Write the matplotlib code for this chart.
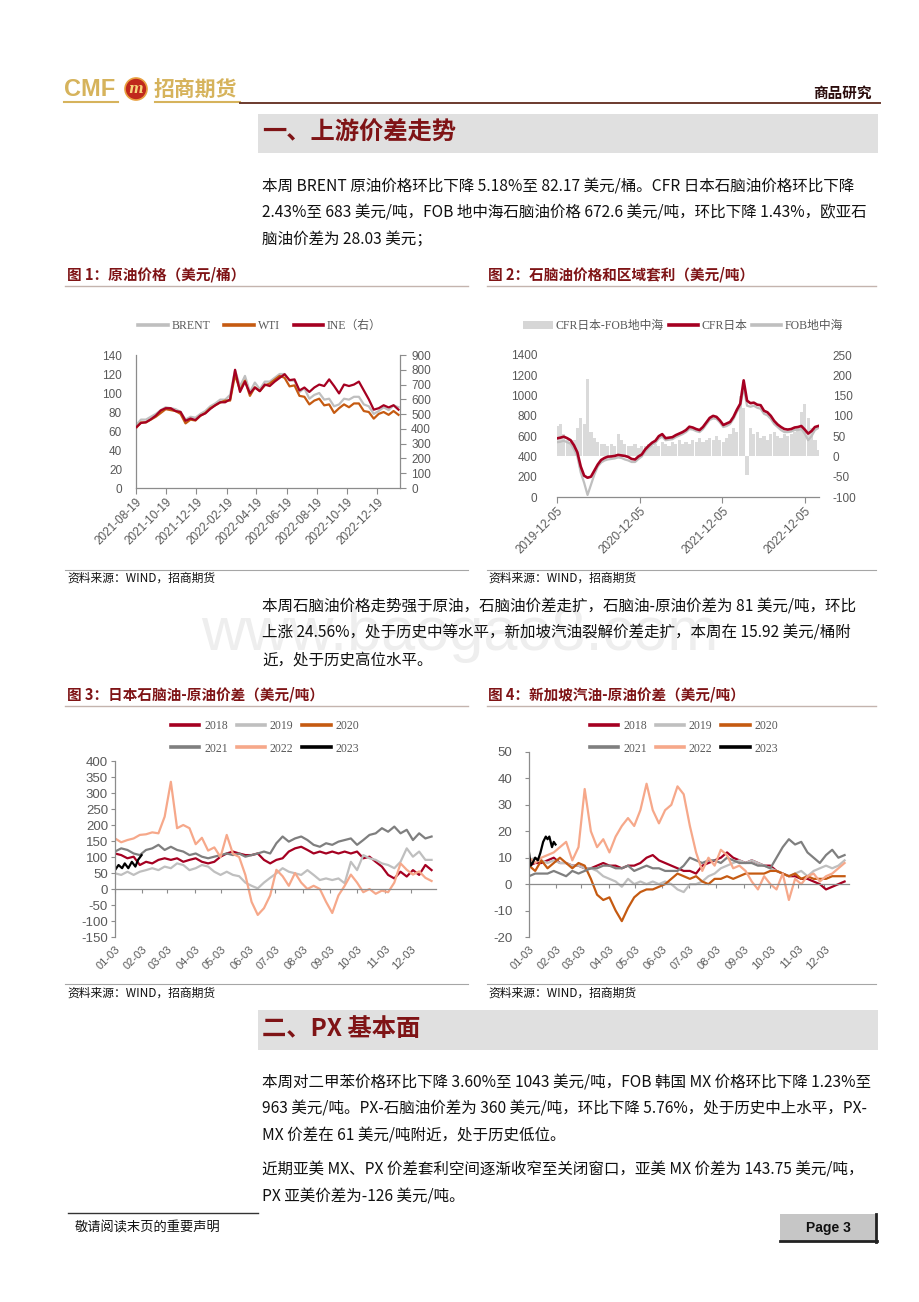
import numpy as np
import pandas as pd
import matplotlib
matplotlib.use('Agg')
import matplotlib.pyplot as plt
from matplotlib.lines import Line2D
from matplotlib.patches import Rectangle, Patch, Circle

plt.rcParams['font.family'] = ['Noto Sans CJK SC', 'DejaVu Sans']
plt.rcParams['axes.unicode_minus'] = False

W, H = 920, 1302

# ---------------- 图1：原油价格（10天一个点） ----------------
c1_start = '2021-08-19'
c1_end = '2023-02-03'
brent = [66, 72, 72, 75, 78, 82, 85, 84, 83, 80, 72, 75, 74, 78, 81, 86, 89, 93, 93, 98,
         124, 107, 118, 101, 111, 104, 112, 112, 116, 120, 120, 113, 113, 101, 105, 94, 98, 100, 93, 94,
         86, 88, 94, 93, 96, 96, 88, 86, 78, 81, 85, 82, 87, 85]
wti = [63, 69, 69, 72, 75, 79, 83, 82, 81, 78, 68, 72, 71, 76, 79, 84, 87, 90, 92, 92,
       119, 103, 113, 97, 106, 102, 108, 110, 114, 118, 116, 107, 108, 97, 96, 88, 92, 94, 87, 88,
       79, 84, 88, 85, 89, 89, 81, 80, 73, 78, 80, 77, 81, 77]
ine = [410, 440, 445, 465, 490, 525, 540, 540, 520, 515, 455, 470, 460, 490, 505, 535, 560, 580, 580, 600,
       800, 650, 720, 640, 680, 655, 700, 690, 720, 745, 770, 730, 735, 660, 680, 650, 680, 700, 690, 735,
       690, 640, 700, 690, 700, 720, 660, 600, 530, 540, 560, 545, 560, 530]
c1_ticks = ['2021-08-19', '2021-10-19', '2021-12-19', '2022-02-19', '2022-04-19',
            '2022-06-19', '2022-08-19', '2022-10-19', '2022-12-19']

# ---------------- 图2：石脑油价格和区域套利（15天一个点） ----------------
c2_start = '2019-12-05'
c2_end = '2023-02-05'
cfr_japan = [578, 585, 595, 580, 560, 510, 440, 300, 210, 190, 200, 260, 320, 365, 385, 398, 400, 405, 415, 410,
             405, 395, 375, 370, 400, 420, 470, 505, 535, 555, 600, 620, 580, 585, 590, 610, 625, 640, 660, 693,
             685, 670, 660, 690, 735, 780, 800, 790, 755, 710, 725, 740, 790, 860, 920, 1150, 950, 925, 930, 910,
             905, 850, 835, 800, 750, 715, 690, 670, 665, 670, 685, 690, 700, 665, 625, 650, 690, 700]
fob_med = [540, 545, 555, 540, 525, 470, 400, 240, 140, 20, 120, 220, 300, 340, 360, 370, 375, 380, 390, 385,
           370, 360, 345, 345, 375, 400, 450, 485, 515, 535, 575, 595, 560, 565, 570, 590, 605, 620, 640, 670,
           665, 650, 640, 670, 715, 760, 775, 770, 735, 690, 700, 720, 770, 840, 890, 1080, 900, 890, 900, 880,
           870, 820, 805, 770, 720, 690, 660, 640, 640, 645, 660, 660, 670, 625, 560, 600, 660, 680]
cfr_fob_spread = [75, 80, 55, 40, 35, 40, 70, 95, 80, 190, 60, 45, 35, 30, 30, 25, 30, 25, 55, 40,
                  30, 25, 25, 30, 20, 25, 25, 30, 25, 30, 25, 35, 30, 25, 35, 30, 40, 30, 35, 30,
                  40, 35, 45, 35, 40, 45, 40, 50, 40, 35, 45, 55, 70, 60, 150, 120, -45, 70, 55, 60,
                  45, 50, 40, 55, 60, 50, 45, 55, 50, 55, 60, 70, 110, 130, 95, 70, 40, 15]
c2_ticks = ['2019-12-05', '2020-12-05', '2021-12-05', '2022-12-05']

# ---------------- 图3 / 图4：季节性（每周一个点，自01-03起） ----------------
month_labels = ['01-03', '02-03', '03-03', '04-03', '05-03', '06-03',
                '07-03', '08-03', '09-03', '10-03', '11-03', '12-03']
years = ['2018', '2019', '2020', '2021', '2022', '2023']

jp_2018 = [111, 106, 96, 101, 75, 85, 80, 91, 96, 91, 96, 85, 91, 96, 85, 80, 85, 101, 111, 117,
           111, 106, 106, 111, 91, 80, 91, 96, 117, 127, 132, 122, 111, 117, 111, 117, 111, 117, 111, 117,
           96, 101, 85, 70, 44, 33, 54, 39, 59, 44, 75, 59]
jp_2019 = [49, 44, 54, 44, 54, 59, 65, 59, 70, 65, 80, 75, 59, 65, 75, 70, 54, 44, 54, 44,
           40, 20, 10, 2, 20, 35, 49, 65, 54, 49, 44, 59, 44, 28, 33, 28, 33, 18, 85, 59,
           106, 96, 91, 80, 75, 65, 85, 127, 101, 117, 91, 91]
jp_2020 = []
jp_2021 = [117, 127, 122, 111, 106, 122, 127, 138, 122, 132, 122, 117, 106, 111, 101, 96, 101, 106, 111, 106,
           111, 101, 106, 111, 117, 111, 143, 164, 148, 158, 164, 153, 138, 132, 143, 138, 148, 153, 158, 138,
           153, 169, 174, 190, 179, 195, 174, 185, 153, 174, 158, 164]
jp_2022 = [158, 146, 153, 158, 169, 171, 177, 174, 226, 335, 190, 200, 190, 140, 160, 120, 130, 100, 169, 110,
           100, 44, -40, -81, -60, -20, 60, 40, 10, 50, 20, 0, 10, 0, -40, -75, -20, 10, 45, 20,
           -10, 0, -15, -5, -10, 20, 80, 60, 45, 55, 35, 25]
jp_2023_days = [0, 4, 8, 11, 15, 19, 23, 26, 30]
jp_2023 = [59, 75, 65, 80, 65, 85, 70, 91, 106]

sg_2018 = [7, 8, 8, 9, 10, 8, 8, 7, 7, 6, 6, 7, 8, 7, 7, 6, 7, 7, 8, 10,
           11, 9, 8, 7, 6, 5, 5, 4, 7, 8, 9, 10, 12, 10, 9, 8, 9, 8, 7, 7,
           5, 4, 3, 3, 2, 2, 1, 0, -2, -1, 0, 1]
sg_2019 = [9, 10, 9, 8, 9, 8, 8, 7, 7, 6, 6, 5, 3, 2, 1, -1, 2, 0, 1, 0,
           1, 0, 1, 0, -2, -3, 0, 0, 1, 3, 4, 6, 7, 8, 9, 8, 9, 8, 7, 6,
           5, 4, 3, 4, 5, 3, 5, 6, 7, 6, 7, 9]
sg_2020 = [7, 5, 9, 6, 8, 10, 8, 6, 8, 7, 2, -4, -6, -5, -10, -14, -9, -5, -3, -2,
           -2, -1, 0, 2, 4, 3, 2, 3, 1, 0, 2, 2, 3, 2, 3, 4, 4, 4, 4, 5,
           5, 4, 3, 4, 2, 3, 2, 2, 2, 3, 3, 3]
sg_2021 = [3, 4, 4, 4, 5, 4, 3, 5, 4, 5, 6, 6, 7, 7, 6, 6, 7, 5, 6, 7,
           6, 6, 5, 5, 5, 7, 10, 9, 8, 9, 9, 8, 10, 9, 8, 8, 8, 7, 7, 6,
           10, 14, 17, 15, 16, 12, 10, 8, 11, 13, 10, 11]
sg_2022 = [10, 8, 10, 11, 12, 14, 16, 9, 14, 36, 20, 14, 17, 12, 18, 22, 25, 22, 28, 38,
           28, 23, 28, 30, 37, 34, 22, 12, 5, 10, 7, 13, 11, 6, 7, 5, 1, -2, 3, 0,
           -2, 4, -6, 2, 0, 3, 4, 1, 3, 4, 6, 8]
sg_2023_days = [0, 2, 4, 7, 10, 13, 16, 19, 21, 23, 26, 28, 30]
sg_2023 = [12, 7, 8, 10, 9, 12, 16, 18, 17, 18, 14, 16, 15]

# 文字
para1 = ['本周 BRENT 原油价格环比下降 5.18%至 82.17 美元/桶。CFR 日本石脑油价格环比下降',
         '2.43%至 683 美元/吨，FOB 地中海石脑油价格 672.6 美元/吨，环比下降 1.43%，欧亚石',
         '脑油价差为 28.03 美元；']
para2 = ['本周石脑油价格走势强于原油，石脑油价差走扩，石脑油-原油价差为 81 美元/吨，环比',
         '上涨 24.56%，处于历史中等水平，新加坡汽油裂解价差走扩，本周在 15.92 美元/桶附',
         '近，处于历史高位水平。']
para3 = ['本周对二甲苯价格环比下降 3.60%至 1043 美元/吨，FOB 韩国 MX 价格环比下降 1.23%至',
         '963 美元/吨。PX-石脑油价差为 360 美元/吨，环比下降 5.76%，处于历史中上水平，PX-',
         'MX 价差在 61 美元/吨附近，处于历史低位。']
para4 = ['近期亚美 MX、PX 价差套利空间逐渐收窄至关闭窗口，亚美 MX 价差为 143.75 美元/吨，',
         'PX 亚美价差为-126 美元/吨。']

# 颜色
RED = '#a50021'
LGREY = '#bfbfbf'
ORANGE = '#c55a11'
DGREY = '#7f7f7f'
SALMON = '#f6a88a'
AXIS = '#8c8c8c'
TICK = '#595959'
TITLE = '#7f1416'
GOLD = '#d6b35c'
BODY = 11.2
year_colors = {'2018': RED, '2019': LGREY, '2020': ORANGE, '2021': DGREY, '2022': SALMON, '2023': '#000000'}

fig = plt.figure(figsize=(W / 100, H / 100), dpi=100)
fig.patch.set_facecolor('white')


def px_ax(left, top, right, bottom):
    return fig.add_axes([left / W, 1 - bottom / H, (right - left) / W, (bottom - top) / H])


def put(x, y, s, **kw):
    kw.setdefault('va', 'center')
    return fig.text(x / W, 1 - y / H, s, **kw)


def rule(x0, x1, y, color, lw=1.0):
    fig.add_artist(Line2D([x0 / W, x1 / W], [1 - y / H, 1 - y / H], color=color, lw=lw))


def box(x0, y0, x1, y1, color):
    fig.add_artist(Rectangle((x0 / W, 1 - y1 / H), (x1 - x0) / W, (y1 - y0) / H,
                             transform=fig.transFigure, facecolor=color, edgecolor='none', zorder=0))


def tidy(ax, size=8.5):
    ax.tick_params(labelsize=size, labelcolor=TICK, color=AXIS, labelfontfamily='Liberation Sans')
    for s in ax.spines.values():
        s.set_color(AXIS)
        s.set_linewidth(0.9)


legend_font = {'family': ['Liberation Serif', 'Noto Sans CJK SC'], 'size': 8.5}

# ---------------- 页眉 ----------------
put(64, 89, 'CMF', fontsize=17, fontweight='bold', color=GOLD, family='Liberation Sans')
fig.add_artist(Circle((136 / 100, (H - 89) / 100), 0.11, transform=fig.dpi_scale_trans,
                      facecolor='#c0281c', edgecolor='#e8a040', lw=1.2))
put(136, 89, 'm', fontsize=10, fontweight='bold', style='italic', color='#f7d57a', ha='center',
    family='DejaVu Serif')
put(154, 89, '招商期货', fontsize=15, fontweight='bold', color=GOLD)
rule(64, 118, 102, GOLD, 1.5)
rule(155, 240, 102, GOLD, 1.5)
rule(240, 880, 103, '#6b3a2e', 1.4)
put(872, 93, '商品研究', fontsize=10.5, fontweight='bold', color='#2b0d0d', ha='right')

# ---------------- 一、上游价差走势 ----------------
box(258, 114, 878, 153, '#e0e0e0')
put(262, 133, '一、上游价差走势', fontsize=17.5, fontweight='bold', color=TITLE)

for i, line in enumerate(para1):
    put(262, 187 + i * 26.5, line, fontsize=BODY, color='#111111')

put(67, 275, '图 1：原油价格（美元/桶）', fontsize=10.5, fontweight='bold', color=TITLE)
put(488, 275, '图 2：石脑油价格和区域套利（美元/吨）', fontsize=10.5, fontweight='bold', color=TITLE)
rule(65, 468, 286, '#c4b4ae', 1.0)
rule(487, 876, 286, '#c4b4ae', 1.0)

# 图1
d1 = pd.date_range(c1_start, periods=len(brent), freq='10D')
ax1 = px_ax(136, 355, 400, 488)
ax1.plot(d1, brent, color=LGREY, lw=1.6)
ax1.plot(d1, wti, color=ORANGE, lw=1.6)
ax1r = ax1.twinx()
ax1r.plot(d1, ine, color=RED, lw=1.6)
ax1.set_ylim(0, 140)
ax1.set_yticks(range(0, 141, 20))
ax1r.set_ylim(0, 900)
ax1r.set_yticks(range(0, 901, 100))
ax1.set_xlim(pd.Timestamp(c1_start), pd.Timestamp(c1_end))
ax1.set_xticks(pd.to_datetime(c1_ticks))
ax1.set_xticklabels(c1_ticks, rotation=45, ha='right', rotation_mode='anchor')
tidy(ax1)
tidy(ax1r)
ax1.spines[['top', 'right']].set_visible(False)
ax1r.spines[['top', 'left', 'bottom']].set_visible(False)
ax1.tick_params(axis='y', length=0, pad=10)
ax1.tick_params(axis='x', length=4, pad=2)
ax1r.tick_params(axis='y', length=4, pad=4)
h1 = [Line2D([], [], color=LGREY, lw=2.6), Line2D([], [], color=ORANGE, lw=2.6), Line2D([], [], color=RED, lw=2.6)]
fig.legend(h1, ['BRENT', 'WTI', 'INE（右）'], loc='center', bbox_to_anchor=(260 / W, 1 - 326 / H),
           ncol=3, frameon=False, prop=legend_font, labelcolor=TICK, handlelength=2.5,
           handletextpad=0.3, columnspacing=1.2)

# 图2
d2 = pd.date_range(c2_start, periods=len(cfr_japan), freq='15D')
ax2 = px_ax(557, 355, 819, 497)
ax2r = ax2.twinx()
ax2r.bar(d2, cfr_fob_spread, width=14, color='#dadada', linewidth=0)
ax2.plot(d2, fob_med, color=LGREY, lw=1.6)
ax2.plot(d2, cfr_japan, color=RED, lw=1.9)
ax2.set_zorder(ax2r.get_zorder() + 1)
ax2.patch.set_visible(False)
ax2.set_ylim(0, 1400)
ax2.set_yticks(range(0, 1401, 200))
ax2r.set_ylim(-100, 250)
ax2r.set_yticks(range(-100, 251, 50))
ax2.set_xlim(pd.Timestamp(c2_start), pd.Timestamp(c2_end))
ax2.set_xticks(pd.to_datetime(c2_ticks))
ax2.set_xticklabels(c2_ticks, rotation=45, ha='right', rotation_mode='anchor')
tidy(ax2)
tidy(ax2r)
ax2.spines[['top', 'right', 'left']].set_visible(False)
ax2r.spines[['top', 'right', 'left', 'bottom']].set_visible(False)
ax2.tick_params(axis='y', length=0, pad=14)
ax2.tick_params(axis='x', length=4, pad=2)
ax2r.tick_params(axis='y', length=0, pad=10)
h2 = [Patch(facecolor='#d6d6d6'), Line2D([], [], color=RED, lw=2.6), Line2D([], [], color=LGREY, lw=2.6)]
fig.legend(h2, ['CFR日本-FOB地中海', 'CFR日本', 'FOB地中海'], loc='center',
           bbox_to_anchor=(683 / W, 1 - 326 / H), ncol=3, frameon=False, prop=legend_font,
           labelcolor=TICK, handlelength=2.5, handletextpad=0.25, columnspacing=0.4)

rule(65, 468, 570, '#a6a6a6', 0.8)
rule(487, 876, 570, '#a6a6a6', 0.8)
put(67, 578, '资料来源：WIND，招商期货', fontsize=8.5, color='#111111')
put(488, 578, '资料来源：WIND，招商期货', fontsize=8.5, color='#111111')

# 水印 + 第二段
put(460, 634, 'www.baogao8.com', fontsize=44, color='#eeeeee', ha='center', family='Liberation Sans', zorder=0)
for i, line in enumerate(para2):
    put(262, 607 + i * 26.5, line, fontsize=BODY, color='#111111')

put(67, 695, '图 3：日本石脑油-原油价差（美元/吨）', fontsize=10.5, fontweight='bold', color=TITLE)
put(488, 695, '图 4：新加坡汽油-原油价差（美元/吨）', fontsize=10.5, fontweight='bold', color=TITLE)
rule(65, 468, 706, '#c4b4ae', 1.0)
rule(487, 876, 706, '#c4b4ae', 1.0)

month_days = [(pd.Timestamp('2021-' + m) - pd.Timestamp('2021-01-03')).days for m in month_labels]


def seasonal(ax, series, days_2023, vals_2023, ylim, ystep, legend_x, ypad):
    week_days = np.arange(len(series[0])) * 7
    for yr, vals in zip(years[:5], series):
        ax.plot(week_days[:len(vals)], vals, color=year_colors[yr], lw=1.6)
    ax.plot(days_2023, vals_2023, color=year_colors['2023'], lw=1.6)
    ax.set_xlim(0, 362)
    ax.set_ylim(*ylim)
    ax.set_yticks(range(ylim[0], ylim[1] + 1, ystep))
    tidy(ax, 9.5)
    ax.spines[['top', 'right']].set_visible(False)
    ax.spines['bottom'].set_position(('data', 0))
    ax.set_xticks(month_days)
    ax.tick_params(axis='x', labelbottom=False, length=3)
    ax.tick_params(axis='y', length=3, pad=ypad)
    sec = ax.secondary_xaxis('bottom')
    sec.set_xticks(month_days, labels=month_labels)
    sec.tick_params(length=0, pad=5, labelsize=8, labelcolor=TICK, labelfontfamily='Liberation Sans')
    sec.spines['bottom'].set_visible(False)
    plt.setp(sec.get_xticklabels(), rotation=45, ha='right', rotation_mode='anchor')
    order = ['2018', '2021', '2019', '2022', '2020', '2023']
    hd = [Line2D([], [], color=year_colors[y], lw=2.6) for y in order]
    fig.legend(hd, order, loc='center', bbox_to_anchor=(legend_x / W, 1 - 737.5 / H), ncol=3,
               frameon=False, prop=legend_font, labelcolor=TICK, handlelength=2.4,
               handletextpad=0.4, columnspacing=0.75, labelspacing=0.85)
    return ax


ax3 = px_ax(115, 761, 436, 937)
seasonal(ax3, [jp_2018, jp_2019, jp_2020, jp_2021, jp_2022], jp_2023_days, jp_2023, (-150, 400), 50, 265, 2)
ax4 = px_ax(529, 752, 849, 937)
seasonal(ax4, [sg_2018, sg_2019, sg_2020, sg_2021, sg_2022], sg_2023_days, sg_2023, (-20, 50), 10, 684, 9)

rule(65, 468, 984, '#a6a6a6', 0.8)
rule(487, 876, 984, '#a6a6a6', 0.8)
put(67, 993, '资料来源：WIND，招商期货', fontsize=8.5, color='#111111')
put(488, 993, '资料来源：WIND，招商期货', fontsize=8.5, color='#111111')

# ---------------- 二、PX基本面 ----------------
box(258, 1010, 878, 1050, '#e0e0e0')
put(262, 1029, '二、PX 基本面', fontsize=17.5, fontweight='bold', color=TITLE)
for i, line in enumerate(para3):
    put(262, 1083 + i * 26.5, line, fontsize=BODY, color='#111111')
for i, line in enumerate(para4):
    put(262, 1170 + i * 26.5, line, fontsize=BODY, color='#111111')

# ---------------- 页脚 ----------------
rule(68, 258, 1213, '#333333', 1.0)
put(75, 1228, '敬请阅读末页的重要声明', fontsize=9.5, color='#111111')
box(780, 1214, 876, 1241, '#c6c6c6')
rule(780, 877, 1241, '#222222', 2.0)
fig.add_artist(Line2D([876 / W, 876 / W], [1 - 1214 / H, 1 - 1242 / H], color='#222222', lw=2.0))
put(828, 1228, 'Page 3', fontsize=10, fontweight='bold', color='#111111', ha='center',
    family='Liberation Sans')

fig.savefig('out.png', dpi=100, facecolor='white')
